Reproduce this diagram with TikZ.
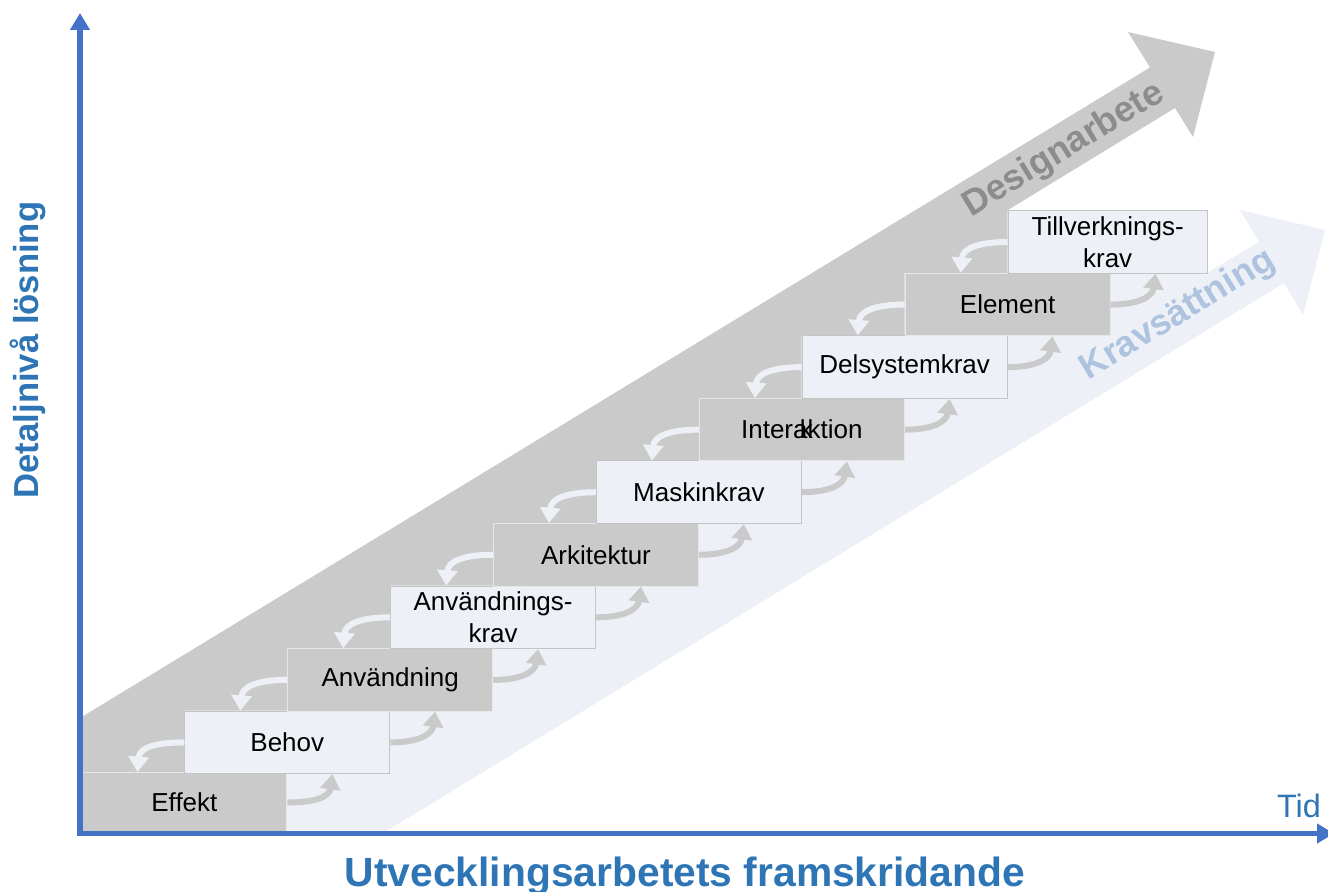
\documentclass[tikz,border=0pt]{standalone}
\usepackage{fontspec}
\setmainfont{Liberation Sans}
\usetikzlibrary{arrows.meta,calc}
\definecolor{bandgray}{HTML}{CACACA}
\definecolor{bandlight}{HTML}{EDF0F6}
\definecolor{boxline}{HTML}{C4C4C4}
\definecolor{darkline}{HTML}{E6E6E6}
\definecolor{axisblue}{HTML}{4472C4}
\definecolor{labelblue}{HTML}{2E75B6}
\definecolor{designtext}{HTML}{8C8C8C}
\definecolor{kravtext}{HTML}{ADC3E0}
\tikzset{
  darkbox/.style={draw=darkline, line width=0.75pt, fill=bandgray, minimum width=153.75pt,
    minimum height=46.9pt, inner sep=0pt, anchor=north west,
    font=\fontsize{19.5}{24}\selectfont, align=center},
  lightbox/.style={darkbox, draw=boxline, fill=bandlight},
  uparr/.style={draw=bandgray, line width=4.5pt, -{Triangle[width=15pt,length=11.5pt]}},
  downarr/.style={uparr, draw=bandlight},
  axisline/.style={draw=axisblue, line width=4.1pt, line join=miter,
    {Triangle[width=14.25pt,length=12.75pt]}-{Triangle[width=14.25pt,length=12.75pt]}},
  bandlabel/.style={font=\bfseries\fontsize{27}{32}\selectfont, rotate=31.3},
}
\begin{document}
\begin{tikzpicture}[x=0.75pt, y=-0.75pt]
\useasboundingbox (0,0) rectangle (1328,892);
% Designarbete band (gray)
\fill[bandgray] (80,718) -- (1150,67.5) -- (1128,32) -- (1215,52) -- (1193,137) -- (1175,108)
  -- (1007.5,210.25) -- (1007.5,272.8) -- (904.6,272.8) -- (904.6,335.35) -- (801.7,335.35)
  -- (801.7,397.9) -- (698.8,397.9) -- (698.8,460.45) -- (595.9,460.45) -- (595.9,523)
  -- (493,523) -- (493,585.55) -- (390.1,585.55) -- (390.1,648.1) -- (287.2,648.1)
  -- (287.2,710.65) -- (184.3,710.65) -- (184.3,773) -- (80,773) -- cycle;
% Kravsaettning band (light)
\fill[bandlight] (286.4,832) -- (286.4,773) -- (389.3,773) -- (389.3,710.65) -- (492.2,710.65)
  -- (492.2,648.1) -- (595.1,648.1) -- (595.1,585.55) -- (698,585.55) -- (698,523)
  -- (800.9,523) -- (800.9,460.45) -- (903.8,460.45) -- (903.8,397.9) -- (1006.7,397.9)
  -- (1006.7,335.35) -- (1109.6,335.35) -- (1109.6,272.8) -- (1206.9,272.8) -- (1259,242)
  -- (1240,210) -- (1325,230) -- (1303,315) -- (1284,283) -- (385,832) -- cycle;
\node[bandlabel, text=designtext] (design) at (1064,150) {Designarbete};
\node[bandlabel, text=kravtext] (krav) at (1178,315) {Kravsättning};
% boxes
\node[darkbox, minimum height=45pt] (b0) at (81.4,772) {Effekt};
\node[lightbox] (b1) at (184.3,710.65) {Behov};
\node[darkbox] (b2) at (287.2,648.1) {Användning};
\node[lightbox] (b3) at (390.1,585.55) {Användnings-\\krav};
\node[darkbox] (b4) at (493,523) {Arkitektur};
\node[lightbox] (b5) at (595.9,460.45) {Maskinkrav};
\node[darkbox] (b6) at (698.8,397.9) {Intera\llap{k\kern-0.2em}ktion};
\node[lightbox] (b7) at (801.7,335.35) {Delsystemkrav};
\node[darkbox] (b8) at (904.6,272.8) {Element};
\node[lightbox, minimum width=149.5pt] (b9) at (1007.5,210.25) {Tillverknings-\\krav};
% curved connectors
\foreach \i/\j in {0/1,1/2,2/3,3/4,4/5,5/6,6/7,7/8,8/9}
  \draw[uparr] (b\i.east) .. controls +(30,0) and +(-3,22) .. ($(b\j.south west)+(148,0)$);
\foreach \i/\j in {1/0,2/1,3/2,4/3,5/4,6/5,7/6,8/7,9/8}
  \draw[downarr] (b\i.west) .. controls +(-30,0) and +(2,-24) .. ($(b\j.north west)+(56,0)$);
% axes
\coordinate (orig) at (80,833.5);
\coordinate (ytop) at (80,13);
\coordinate (xend) at (1334,833.5);
\draw[axisline] (ytop) -- (orig) -- (xend);
\node[font=\fontsize{24.3}{28}\selectfont, text=labelblue, anchor=base] (tid) at (1299,817.7) {Tid};
\node[font=\bfseries\fontsize{30.6}{36}\selectfont, text=labelblue, anchor=base] (xlab) at (685,886) {Utvecklingsarbetets framskridande};
\node[font=\bfseries\fontsize{26}{30}\selectfont, text=labelblue, rotate=90, anchor=base] (ylab) at (38,350) {Detaljnivå lösning};
\end{tikzpicture}
\end{document}
